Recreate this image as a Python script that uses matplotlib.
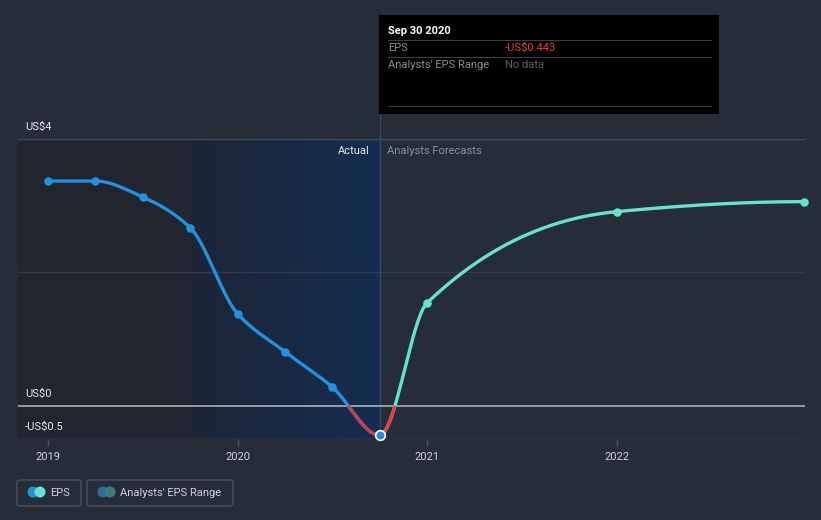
import numpy as np
import matplotlib
matplotlib.use("Agg")
import matplotlib.pyplot as plt
from matplotlib.patches import Rectangle, FancyBboxPatch, Ellipse
from matplotlib.colors import LinearSegmentedColormap

plt.rcParams['font.family'] = ['Roboto', 'DejaVu Sans']

# ---- data ----
actual_x = [2019.0, 2019.25, 2019.5, 2019.75, 2020.0, 2020.25, 2020.5, 2020.75]
actual_eps = [3.37, 3.37, 3.13, 2.67, 1.38, 0.81, 0.28, -0.443]
forecast_x = [2020.75, 2021.0, 2022.0, 2022.99]
forecast_eps = [-0.443, 1.54, 2.91, 3.06]
xticks = [2019, 2020, 2021, 2022]
xtick_labels = ["2019", "2020", "2021", "2022"]
ytick_vals = [4, 0, -0.5]
ytick_labels = ["US$4", "US$0", "-US$0.5"]

W, H = 821, 520
BG = '#262c38'
fig = plt.figure(figsize=(W / 100, H / 100), dpi=100, facecolor=BG)

def fx(x): return x / W
def fy(y): return 1 - y / H

ax_l, ax_r, ax_t, ax_b = 18, 805, 139, 439
ax = fig.add_axes([fx(ax_l), fy(ax_b), (ax_r - ax_l) / W, (ax_b - ax_t) / H])
ax.set_facecolor(BG)
x0 = 2019 - 30 / 189.5
x1 = 2019 + (ax_r - 48) / 189.5
for s in ax.spines.values():
    s.set_visible(False)

# shaded regions
ax.axvspan(x0, 2019.75, color='#21252f', zorder=0, lw=0)
grad = np.linspace(0, 1, 256).reshape(1, -1)
cm = LinearSegmentedColormap.from_list('b', ['#1c2536', '#162d50'])
ax.imshow(grad, cmap=cm, extent=[2019.75, 2020.75, -0.5, 4], aspect='auto', zorder=0.5)
ax.set_xlim(x0, x1)
ax.set_ylim(-0.5, 4)

# gridlines
ax.axhline(4, color='#454c59', lw=1, zorder=1)
ax.axhline(2, color='#353b47', lw=1, zorder=1)
ax.axhline(-0.5, color='#454c59', lw=1, zorder=1)
ax.axhline(0, color='#a3a6ab', lw=1.3, zorder=2)
ax.plot([2020.75, 2020.75], [-0.5, 4.0 + 25 / 66.75], color='#2b4a74', lw=1, zorder=1, clip_on=False)

# smooth monotone cubic (rendering only)
def pchip(x, y, n=500, flat_start=False, flat_end=False):
    x = np.asarray(x, float); y = np.asarray(y, float)
    h = np.diff(x); d = np.diff(y) / h
    m = np.zeros_like(y)
    for k in range(1, len(x) - 1):
        if d[k - 1] * d[k] > 0:
            w1 = 2 * h[k] + h[k - 1]; w2 = h[k] + 2 * h[k - 1]
            m[k] = (w1 + w2) / (w1 / d[k - 1] + w2 / d[k])
    m[0] = ((2 * h[0] + h[1]) * d[0] - h[0] * d[1]) / (h[0] + h[1])
    if np.sign(m[0]) != np.sign(d[0]): m[0] = 0
    m[-1] = ((2 * h[-1] + h[-2]) * d[-1] - h[-1] * d[-2]) / (h[-1] + h[-2])
    if np.sign(m[-1]) != np.sign(d[-1]): m[-1] = 0
    if flat_start: m[0] = 0
    if flat_end: m[-1] = 0
    xs = np.linspace(x[0], x[-1], n)
    idx = np.clip(np.searchsorted(x, xs) - 1, 0, len(x) - 2)
    t = (xs - x[idx]) / h[idx]
    h00 = 2 * t**3 - 3 * t**2 + 1; h10 = t**3 - 2 * t**2 + t
    h01 = -2 * t**3 + 3 * t**2; h11 = t**3 - t**2
    ys = h00 * y[idx] + h10 * h[idx] * m[idx] + h01 * y[idx + 1] + h11 * h[idx] * m[idx + 1]
    return xs, ys

def draw(xs, ys, pos_col, neg_col):
    ax.plot(xs, ys, color=pos_col, lw=2.4, zorder=4, solid_capstyle='round')
    neg = np.ma.masked_where(ys > 0, ys)
    ax.plot(xs, neg, color=neg_col, lw=2.4, zorder=4.1, solid_capstyle='butt')

axs, ays = pchip(actual_x, actual_eps, flat_end=True)
draw(axs, ays, '#2490de', '#c4404f')
fxs, fys = pchip(forecast_x, forecast_eps, flat_start=True)
draw(fxs, fys, '#63e3d0', '#e5403c')

ax.scatter(actual_x[:-1], actual_eps[:-1], s=38, color='#2490de', zorder=5, lw=0)
ax.scatter(forecast_x[1:], forecast_eps[1:], s=38, color='#63e3d0', zorder=5, lw=0, clip_on=False)
ax.scatter([actual_x[-1]], [actual_eps[-1]], s=48, color='#2490de', edgecolor='white', lw=1.2, zorder=6, clip_on=False)

# ticks
ax.set_xticks(xticks)
ax.set_xticklabels(xtick_labels)
ax.tick_params(axis='x', colors='#4a505c', labelcolor='#d0d3d8', length=5, width=1, labelsize=8, pad=4)
ax.set_yticks([])

lab_y = {4: 127, 0: 394, -0.5: 427}
for v, lab in zip(ytick_vals, ytick_labels):
    fig.text(fx(25), fy(lab_y[v]), lab, color='#e6e8eb', fontsize=8, va='center', ha='left')

fig.text(fx(370), fy(151), "Actual", color='#e6e8eb', fontsize=8, ha='right', va='center')
fig.text(fx(387), fy(151), "Analysts Forecasts", color='#8a8f98', fontsize=8, ha='left', va='center')

# tooltip
fig.add_artist(Rectangle((fx(379), fy(114)), (719 - 379) / W, (114 - 15) / H,
                         transform=fig.transFigure, facecolor='black', edgecolor='none', zorder=10))
for yy in [40, 57, 106]:
    fig.add_artist(plt.Line2D([fx(388), fx(711)], [fy(yy), fy(yy)], color='#3a3d42', lw=0.8,
                              transform=fig.transFigure, zorder=11))
fig.text(fx(388), fy(31), "Sep 30 2020", color='white', fontsize=8, fontweight='bold', va='center', zorder=12)
fig.text(fx(388), fy(48), "EPS", color='#8a8e94', fontsize=8, va='center', zorder=12)
fig.text(fx(505), fy(48), "-US$0.443", color='#e8413e', fontsize=8, va='center', zorder=12)
fig.text(fx(388), fy(65), "Analysts' EPS Range", color='#8a8e94', fontsize=8, va='center', zorder=12)
fig.text(fx(505), fy(65), "No data", color='#5c6066', fontsize=8, va='center', zorder=12)

# legend
def box(x0p, x1p):
    fig.add_artist(FancyBboxPatch((fx(x0p), fy(506)), (x1p - x0p) / W, 26 / H,
                                  boxstyle='round,pad=0,rounding_size=0.004',
                                  transform=fig.transFigure, facecolor=BG, edgecolor='#4a505c', lw=1))
box(17, 81)
box(87, 233)
def edot(xp, col):
    fig.add_artist(Ellipse((fx(xp), fy(492)), 11 / W, 11 / H, transform=fig.transFigure,
                           facecolor=col, edgecolor='none'))
edot(33, '#2490de'); edot(40, '#63e3d0')
edot(103, '#2f6d98'); edot(110, '#3e7d80')
fig.text(fx(50), fy(493), "EPS", color='#d0d3d8', fontsize=8, va='center')
fig.text(fx(120), fy(493), "Analysts' EPS Range", color='#d0d3d8', fontsize=8, va='center')

fig.savefig('out.png', dpi=100, facecolor=BG)
